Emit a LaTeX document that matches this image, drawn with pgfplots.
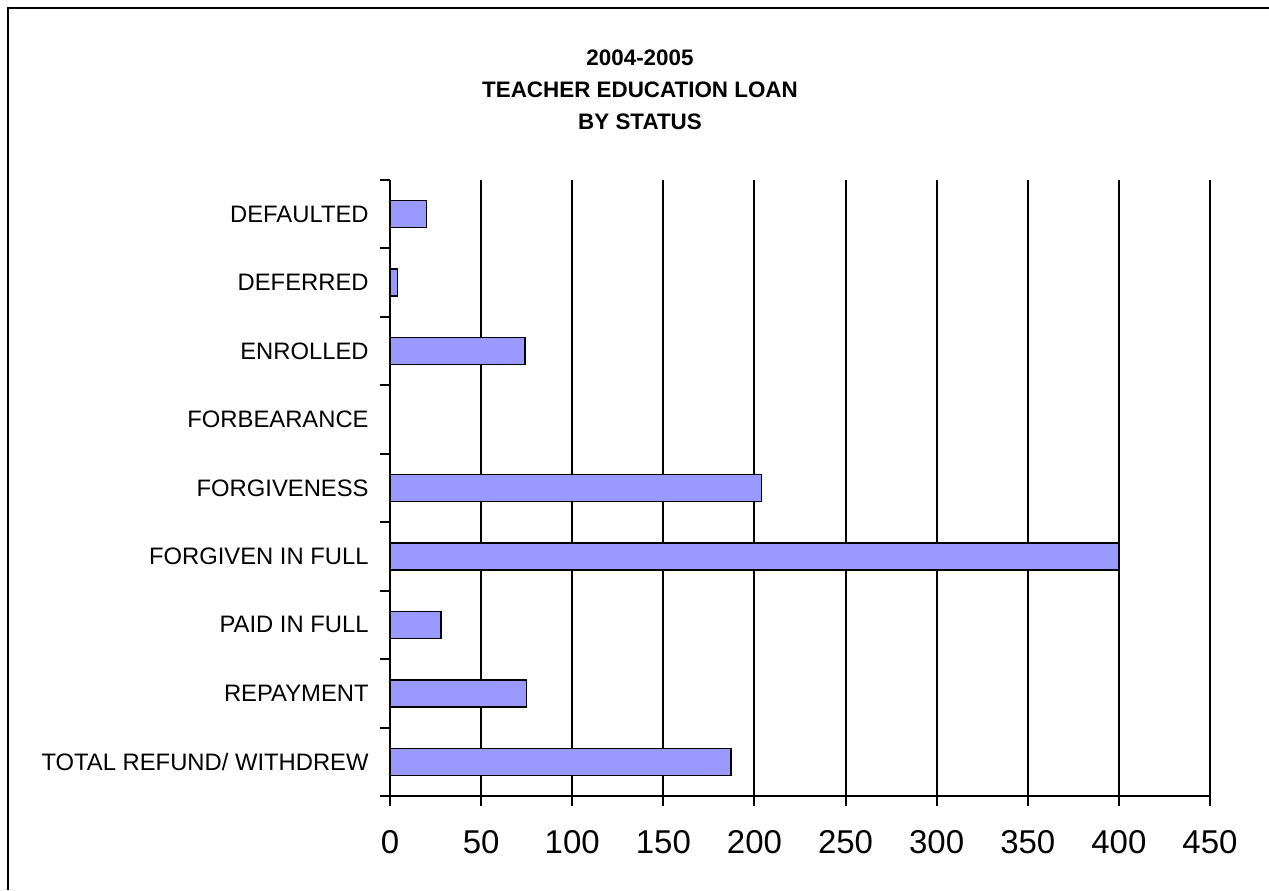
\documentclass[border=0pt]{standalone}
\usepackage{fontspec}
\setmainfont{Liberation Sans}
\usepackage{pgfplots}
\pgfplotsset{compat=1.18}
\definecolor{barblue}{HTML}{9999FF}

\begin{document}
\begin{tikzpicture}
\path[use as bounding box] (0,0) rectangle (634.5pt,445pt);
\draw[line width=1pt] (4pt,0) -- (4pt,441pt) -- (634.5pt,441pt);
\node[align=center, font=\bfseries\fontsize{11.2}{16}\selectfont] at (320pt,400pt)
  {2004-2005\\TEACHER EDUCATION LOAN\\BY STATUS};
\begin{axis}[
  at={(195pt,47pt)}, anchor=south west,
  scale only axis, width=410pt, height=308pt,
  xbar, bar width=13.5pt,
  xmin=0, xmax=450, ymin=-0.5, ymax=8.5,
  xtick={0,50,...,450},
  ytick={-0.5,0.5,...,8.5},
  yticklabels={TOTAL REFUND/ WITHDREW, REPAYMENT, PAID IN FULL, FORGIVEN IN FULL,
    FORGIVENESS, FORBEARANCE, ENROLLED, DEFERRED, DEFAULTED, {}},
  axis x line*=bottom, axis y line*=left,
  axis line style={black, line width=1pt},
  xmajorgrids, major grid style={black, line width=1pt},
  tick align=outside, major tick length=5pt,
  tick style={black, line width=1pt},
  /pgf/number format/assume math mode=true,
  xticklabel style={font=\fontsize{16.5}{18}\selectfont, inner sep=0pt, anchor=north, yshift=-12pt},
  yticklabel style={font=\fontsize{11.9}{14}\selectfont, inner sep=0pt, anchor=east, xshift=-5.5pt, yshift=17.11pt},
]
\addplot[fill=barblue, draw=black, line width=0.75pt] coordinates {
  (187,0) (75,1) (28,2) (400,3) (204,4) (0,5) (74,6) (4,7) (20,8)
};
\end{axis}
\end{tikzpicture}
\end{document}
